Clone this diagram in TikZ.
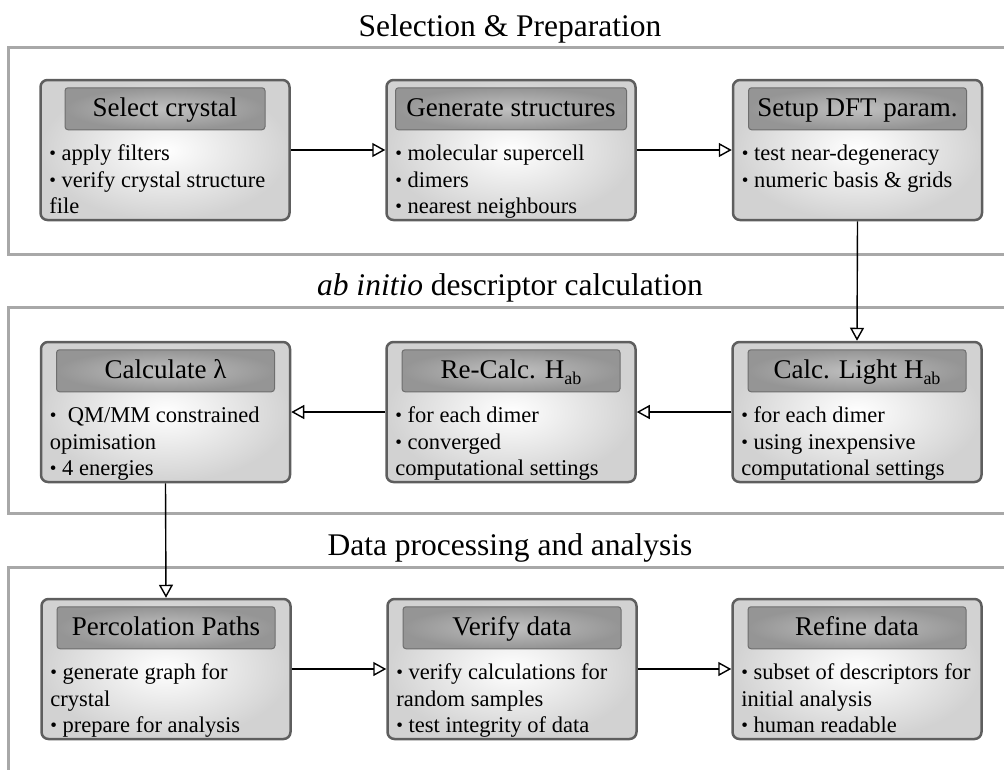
\documentclass[tikz,border=0pt]{standalone}
\usepackage{fontspec}
\setmainfont{Liberation Serif}
\usetikzlibrary{arrows.meta,calc}
\definecolor{framegray}{HTML}{A8A8A8}
\definecolor{boxborder}{HTML}{5E5E5E}
\definecolor{boxouter}{HTML}{D2D2D2}
\definecolor{headinner}{HTML}{C0C0C0}
\definecolor{headouter}{HTML}{959595}
\definecolor{headborder}{HTML}{6E6E6E}
\newcommand{\bul}{\mbox{\fontsize{19}{19}\selectfont\raisebox{1pt}{•}}\ }
\newcommand{\Hab}{H\raisebox{-0.22em}{\fontsize{18}{18}\selectfont ab}}
\begin{document}
\begin{tikzpicture}[x=1pt,y=-1pt,
  secframe/.style={draw=framegray, line width=3pt},
  sectitle/.style={anchor=base, inner sep=0pt, font=\fontsize{31.5}{36}\selectfont},
  stagebox/.style={draw=boxborder, line width=2.5pt, rounded corners=7pt,
    inner color=white, outer color=boxouter,
    minimum width=249pt, minimum height=140pt, inner sep=0pt},
  headbox/.style={draw=headborder, line width=1pt, rounded corners=3pt,
    inner color=headinner, outer color=headouter,
    minimum height=42pt, minimum width=218pt, inner sep=0pt,
    text height=20pt, text depth=4pt,
    font=\fontsize{27}{30}\selectfont},
  bodytext/.style={anchor=north west, inner sep=0pt, align=left,
    font=\fontsize{22.5}{26.5}\selectfont},
  flow/.style={-{Triangle[open,length=13pt,width=14pt]}, line width=1.4pt}
]
\useasboundingbox (0,0) rectangle (1004,769);

% section frames
\draw[secframe] (8,47) rectangle (1014,254);
\draw[secframe] (8,307) rectangle (1014,513);
\draw[secframe] (8,567) rectangle (1014,785);

% section titles
\node[sectitle] (s1) at (510,36) {Selection \& Preparation};
\node[sectitle] (s2) at (510,295) {\textit{ab initio} descriptor calculation};
\node[sectitle] (s3) at (510,555) {Data processing and analysis};

% boxes
\node[stagebox] (b1) at (165,150) {};
\node[stagebox] (b2) at (511,150) {};
\node[stagebox] (b3) at (857.5,150) {};
\node[stagebox] (b4) at (165.5,412) {};
\node[stagebox] (b5) at (511,412) {};
\node[stagebox] (b6) at (857,412) {};
\node[stagebox] (b7) at (166,669) {};
\node[stagebox] (b8) at (512,669) {};
\node[stagebox] (b9) at (857,669) {};

% headers
\node[headbox, minimum width=200pt] (h1) at ($(b1.north)+(0,30)$) {Select crystal};
\node[headbox, minimum width=231pt] (h2) at ($(b2.north)+(0,30)$) {Generate structures};
\node[headbox] (h3) at ($(b3.north)+(0,30)$) {Setup DFT param.};
\node[headbox] (h4) at ($(b4.north)+(0,30)$) {Calculate λ};
\node[headbox] (h5) at ($(b5.north)+(0,30)$) {Re-Calc. \Hab};
\node[headbox] (h6) at ($(b6.north)+(0,30)$) {Calc. Light \Hab};
\node[headbox] (h7) at ($(b7.north)+(0,30)$) {Percolation Paths};
\node[headbox] (h8) at ($(b8.north)+(0,30)$) {Verify data};
\node[headbox] (h9) at ($(b9.north)+(0,30)$) {Refine data};

% body texts
\node[bodytext] (t1) at ($(b1.north west)+(10,66)$) {\bul apply filters\\\bul verify crystal structure\\file};
\node[bodytext] (t2) at ($(b2.north west)+(10,66)$) {\bul molecular supercell\\\bul dimers\\\bul nearest neighbours};
\node[bodytext] (t3) at ($(b3.north west)+(10,66)$) {\bul test near-degeneracy\\\bul numeric basis \& grids};
\node[bodytext] (t4) at ($(b4.north west)+(10,66)$) {\bul\ QM/MM constrained\\opimisation\\\bul 4 energies};
\node[bodytext] (t5) at ($(b5.north west)+(10,66)$) {\bul for each dimer\\\bul converged\\computational settings};
\node[bodytext] (t6) at ($(b6.north west)+(10,66)$) {\bul for each dimer\\\bul using inexpensive\\computational settings};
\node[bodytext] (t7) at ($(b7.north west)+(10,66)$) {\bul generate graph for\\crystal\\\bul prepare for analysis};
\node[bodytext] (t8) at ($(b8.north west)+(10,66)$) {\bul verify calculations for\\random samples\\\bul test integrity of data};
\node[bodytext] (t9) at ($(b9.north west)+(10,66)$) {\bul subset of descriptors for\\initial analysis\\\bul human readable};

% connectors
\draw[flow] (b1.east) -- (b2.west);
\draw[flow] (b2.east) -- (b3.west);
\draw[flow] (b3.south) -- (b6.north);
\draw[flow] (b6.west) -- (b5.east);
\draw[flow] (b5.west) -- (b4.east);
\draw[flow] (b4.south) -- (b7.north);
\draw[flow] (b7.east) -- (b8.west);
\draw[flow] (b8.east) -- (b9.west);
\end{tikzpicture}
\end{document}
